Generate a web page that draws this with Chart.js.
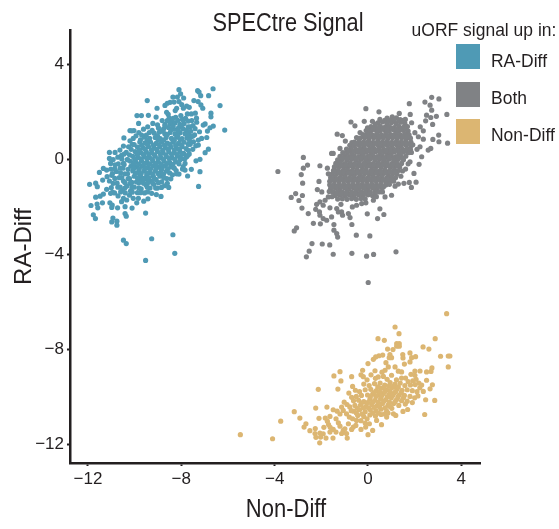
<!DOCTYPE html>
<html lang="en">
<head>
<meta charset="UTF-8">
<title>SPECtre Signal</title>
<script src="https://cdn.jsdelivr.net/npm/chart.js"></script>
<style>
    body { margin: 0; background: #fff; font-family: "Liberation Sans", sans-serif; color: #231f20; }
    #box { position: relative; width: 559px; height: 529px; overflow: hidden; }
    canvas { position: absolute; left: 0; top: 0; }
    .txt { position: absolute; white-space: nowrap; }
    #titulo { left: 188px; width: 200px; top: 8px; text-align: center; font-size: 25px; line-height: 28px; transform: scaleX(.87); }
    #eixoX { left: 186px; width: 200px; top: 494px; text-align: center; font-size: 25px; line-height: 28px; transform: scaleX(.88); }
    #legTitulo { right: 3px; top: 19px; font-size: 19px; line-height: 22px; transform: scaleX(.92); transform-origin: right; }
    .cor { position: absolute; left: 456px; width: 24px; height: 25px; }
    .nome { left: 491px; font-size: 19px; line-height: 22px; transform: scaleX(.92); transform-origin: left; }
</style>
</head>
<body>
<div id="box">
    <canvas id="grafico" width="559" height="529"></canvas>
    <div class="txt" id="titulo">SPECtre Signal</div>
    <div class="txt" id="eixoX">Non-Diff</div>
    <div class="txt" id="legTitulo">uORF signal up in:</div>
    <div class="cor" style="top:44px;background:#4f9ab5"></div>
    <div class="txt nome" style="top:50px">RA-Diff</div>
    <div class="cor" style="top:82px;background:#808285"></div>
    <div class="txt nome" style="top:87px">Both</div>
    <div class="cor" style="top:119px;background:#dcb672"></div>
    <div class="txt nome" style="top:124px">Non-Diff</div>
</div>
<script>
    const xTicks = [-12, -8, -4, 0, 4];
    const yTicks = [4, 0, -4, -8, -12];

    // values: [Non-Diff, RA-Diff]
    const raDiffEdge = [[-8.10,2.92],[-6.64,2.96],[-7.30,2.88],[-7.24,2.82],[-7.17,2.67],[-6.83,2.67],[-8.36,2.61],[-8.17,2.61],[-8.03,2.74],[-7.90,2.57],[-9.46,2.46],[-7.46,2.46],[-7.28,2.42],[-8.48,2.39],[-8.31,2.40],[-8.10,2.42],[-6.34,2.25],[-9.04,2.14],[-8.70,2.26],[-8.60,2.35],[-7.98,2.29],[-7.91,2.14],[-7.16,2.28],[-7.08,2.14],[-8.20,2.14],[-8.26,2.04],[-9.90,1.83],[-9.71,1.83],[-9.41,1.84],[-9.08,1.77],[-8.63,1.97],[-8.56,1.88],[-7.77,2.23],[-7.66,2.18],[-7.74,1.90],[-7.57,1.90],[-7.40,1.93],[-6.73,1.93],[-6.73,1.78],[-9.83,1.50],[-11.93,-1.06],[-11.67,-1.01],[-11.60,-1.16],[-11.37,-0.88],[-11.51,-0.56],[-11.34,-0.39],[-11.20,-0.46],[-11.08,0.28],[-10.84,0.28],[-11.08,0.03],[-11.03,-0.18],[-10.63,0.38],[-10.48,0.55],[-10.20,0.77],[-10.06,0.87],[-10.20,1.20],[-10.03,1.20],[-10.12,1.19],[-10.46,0.89],[-9.70,1.01],[-11.67,-1.60],[-11.48,-1.56],[-11.34,-1.47],[-11.20,-1.27],[-11.03,-1.44],[-11.87,-1.95],[-11.61,-1.89],[-11.38,-1.84],[-11.58,-2.05],[-11.77,-2.34],[-11.68,-2.50],[-11.06,-1.84],[-10.96,-1.93],[-10.98,-2.03],[-10.73,-2.05],[-10.41,-2.00],[-10.11,-2.06],[-10.41,-2.29],[-10.36,-2.40],[-9.53,-2.27],[-10.93,-2.48],[-10.98,-2.64],[-10.76,-2.61],[-10.76,-2.78],[-10.48,-3.41],[-10.36,-3.55],[-9.27,-3.35],[-8.36,-3.18],[-8.28,-3.96],[-9.53,-4.26],[-7.26,-1.15],[-7.20,-0.53],[-7.73,-0.71],[-8.10,-0.63],[-8.54,-1.19],[-8.87,-1.57],[-9.07,-1.49],[-9.27,-1.44],[-9.43,-1.67],[-9.61,-1.77],[-9.91,-1.84],[-10.56,-1.79],[-10.48,-1.65],[-10.34,-1.72],[-10.06,-1.65],[-9.84,-1.65],[-6.84,0.42],[-6.98,0.27],[-7.20,-0.01],[-7.37,-0.07],[-7.57,-0.43],[-7.84,-0.46],[-6.14,1.22],[-6.63,1.39],[-6.77,1.32],[-6.88,1.18],[-6.98,1.48],[-7.06,1.43],[-6.91,0.91],[-7.13,0.87],[-7.27,0.80],[-7.48,0.73],[-7.27,0.59],[-7.51,0.41],[-7.77,0.10],[-7.84,-0.18]];
    const raDiffMid = [[-8.52,1.72],[-8.24,1.76],[-8.02,1.83],[-7.82,1.71],[-7.55,1.62],[-7.34,1.55],[-8.42,1.58],[-7.62,1.36],[-7.41,1.28],[-7.22,1.15],[-7.43,1.02],[-7.58,0.94],[-7.62,0.62],[-7.66,0.22],[-7.92,-0.32],[-8.22,-0.48],[-8.38,-0.66],[-8.62,-0.82],[-8.84,-0.96],[-8.72,-1.12],[-9.02,-1.22],[-9.18,-1.06],[-9.34,-1.22],[-9.52,-1.08],[-9.72,-1.25],[-9.58,-1.42],[-9.88,-1.41],[-10.02,-1.18],[-10.18,-1.34],[-10.34,-1.14],[-10.52,-1.32],[-10.72,-1.18],[-10.86,-1.42],[-10.71,-1.55],[-10.22,-1.52],[-10.92,-1.02],[-11.08,-0.92],[-11.18,-0.74],[-10.98,-0.68],[-11.02,-0.42],[-10.84,-0.24],[-10.92,-0.02],[-10.72,0.08],[-10.78,-0.52],[-10.62,-0.38],[-10.66,-0.78],[-10.48,-0.92],[-10.42,-0.62],[-10.48,-0.18],[-10.56,0.16],[-10.36,0.28],[-10.32,-0.02],[-10.28,-0.82],[-10.12,-0.98],[-9.92,-0.96],[-9.74,-0.86],[-9.52,-0.84],[-9.32,-0.92],[-9.08,-0.86],[-8.92,-0.72],[-10.26,0.52],[-10.1,0.62],[-9.94,0.98],[-9.82,1.12],[-9.62,1.26],[-9.44,1.36],[-9.22,1.5],[-9.02,1.44],[-8.82,1.62],[-8.7,1.46]];
    const raDiffCore = [[-8.48,1.48],[-8.27,1.52],[-8.06,1.46],[-7.88,1.5],[-8.98,1.31],[-8.76,1.27],[-8.55,1.33],[-8.33,1.26],[-8.12,1.31],[-7.93,1.28],[-7.78,1.22],[-9.37,1.12],[-9.16,1.09],[-8.94,1.14],[-8.71,1.07],[-8.48,1.12],[-8.27,1.06],[-8.05,1.11],[-7.84,1.07],[-7.68,1.04],[-9.58,0.92],[-9.36,0.87],[-9.12,0.91],[-8.9,0.86],[-8.65,0.91],[-8.42,0.87],[-8.2,0.92],[-7.97,0.86],[-7.76,0.89],[-9.78,0.72],[-9.56,0.68],[-9.32,0.72],[-9.08,0.66],[-8.84,0.72],[-8.6,0.67],[-8.36,0.71],[-8.12,0.66],[-7.88,0.71],[-9.88,0.51],[-9.64,0.47],[-9.4,0.52],[-9.16,0.46],[-8.92,0.52],[-8.68,0.47],[-8.44,0.51],[-8.2,0.46],[-7.96,0.52],[-7.79,0.44],[-9.98,0.32],[-9.74,0.27],[-9.5,0.31],[-9.26,0.26],[-9.02,0.32],[-8.78,0.27],[-8.54,0.31],[-8.3,0.26],[-8.06,0.32],[-7.9,0.24],[-10.08,0.12],[-9.84,0.07],[-9.6,0.11],[-9.36,0.06],[-9.12,0.12],[-8.88,0.07],[-8.64,0.11],[-8.4,0.06],[-8.16,0.12],[-8.0,0.03],[-10.18,-0.09],[-9.94,-0.13],[-9.7,-0.09],[-9.46,-0.14],[-9.22,-0.08],[-8.98,-0.13],[-8.74,-0.09],[-8.5,-0.14],[-8.24,-0.11],[-10.16,-0.3],[-9.92,-0.34],[-9.68,-0.3],[-9.44,-0.35],[-9.2,-0.29],[-8.96,-0.34],[-8.72,-0.3],[-8.44,-0.33],[-10.08,-0.5],[-9.84,-0.55],[-9.6,-0.5],[-9.36,-0.56],[-9.12,-0.5],[-8.88,-0.55],[-8.64,-0.51],[-10.02,-0.72],[-9.76,-0.68],[-9.48,-0.68],[-9.2,-0.72],[-8.92,-0.62]];
    const raDiffFill = [[-8.7,1.41],[-8.35,1.38],[-8.0,1.42],[-7.7,1.36],[-9.25,1.21],[-8.85,1.18],[-8.45,1.23],[-8.15,1.19],[-7.6,1.17],[-9.5,1.01],[-9.02,0.98],[-8.6,1.03],[-8.15,0.99],[-7.75,1.02],[-7.5,0.97],[-9.75,0.81],[-9.45,0.79],[-9.0,0.83],[-8.75,0.8],[-8.3,0.78],[-8.05,0.82],[-7.65,0.79],[-10.02,0.61],[-9.7,0.58],[-9.45,0.62],[-9.2,0.59],[-8.95,0.61],[-8.72,0.58],[-8.5,0.62],[-8.24,0.57],[-8.0,0.6],[-7.7,0.62],[-7.38,0.56],[-10.15,0.41],[-9.8,0.38],[-9.55,0.42],[-9.28,0.39],[-9.05,0.41],[-8.8,0.37],[-8.55,0.42],[-8.3,0.38],[-8.08,0.41],[-7.7,0.37],[-10.45,0.21],[-10.22,0.18],[-9.9,0.22],[-9.62,0.19],[-9.4,0.21],[-9.15,0.18],[-8.9,0.22],[-8.66,0.17],[-8.42,0.21],[-8.18,0.19],[-7.98,0.22],[-7.72,0.16],[-10.55,0.01],[-10.3,-0.03],[-10.0,0.02],[-9.72,-0.01],[-9.48,0.03],[-9.24,-0.02],[-9.0,0.01],[-8.76,-0.02],[-8.52,0.02],[-8.28,-0.01],[-8.05,-0.03],[-7.85,0.02],[-10.7,-0.2],[-10.45,-0.23],[-10.05,-0.19],[-9.82,-0.22],[-9.58,-0.18],[-9.34,-0.21],[-9.1,-0.19],[-8.86,-0.23],[-8.62,-0.19],[-8.36,-0.22],[-8.1,-0.2],[-10.85,-0.41],[-10.5,-0.38],[-10.28,-0.43],[-10.04,-0.39],[-9.8,-0.42],[-9.56,-0.38],[-9.32,-0.41],[-9.08,-0.39],[-8.84,-0.43],[-8.58,-0.4],[-8.3,-0.38],[-7.95,-0.42],[-10.95,-0.61],[-10.6,-0.58],[-10.3,-0.62],[-9.96,-0.59],[-9.72,-0.61],[-9.48,-0.58],[-9.24,-0.62],[-9.0,-0.6],[-8.76,-0.63],[-8.5,-0.58],[-8.2,-0.62],[-10.85,-0.81],[-10.55,-0.78],[-10.22,-0.82],[-9.88,-0.79],[-9.62,-0.81],[-9.4,-0.78],[-9.16,-0.82],[-8.75,-0.79],[-8.45,-0.83],[-10.75,-1.01],[-10.42,-0.98],[-10.2,-1.02],[-9.82,-0.99],[-9.62,-1.01],[-9.42,-0.98],[-9.22,-1.02],[-8.98,-0.99],[-8.6,-1.02],[-11.0,-1.2],[-10.62,-1.18],[-10.42,-1.22],[-10.12,-1.19],[-9.82,-1.21],[-9.46,-1.18],[-9.1,-1.22],[-8.85,-1.19],[-10.95,-1.4],[-10.6,-1.38],[-10.4,-1.42],[-10.1,-1.39],[-9.75,-1.41],[-9.45,-1.38],[-8.6,1.62],[-8.35,1.71],[-8.15,1.63],[-7.95,1.67],[-7.7,1.6],[-7.5,1.41],[-7.35,1.72]];

    const bothEdge = [[2.73,2.60],[3.04,2.53],[2.44,2.40],[2.66,2.27],[2.73,2.06],[1.77,2.33],[-0.09,2.12],[0.47,1.99],[3.38,1.88],[2.93,1.80],[2.51,1.85],[2.69,1.75],[2.47,1.61],[2.77,1.46],[1.81,1.88],[1.34,1.92],[1.04,1.78],[-0.16,1.59],[-0.73,1.56],[-0.56,1.40],[0.19,1.59],[0.51,1.67],[1.60,1.67],[1.87,1.53],[2.24,1.36],[2.37,1.19],[2.01,1.11],[3.03,1.01],[2.78,0.83],[3.04,0.73],[3.41,0.67],[2.37,0.84],[2.16,0.94],[-1.32,1.05],[-1.10,0.99],[-0.97,0.76],[-0.69,0.69],[-0.34,1.12],[-0.49,0.91],[2.69,0.45],[2.58,0.38],[2.23,0.52],[2.10,0.41],[2.30,0.10],[1.80,-0.11],[2.19,-0.22],[-1.56,0.24],[-1.49,0.24],[-1.20,0.45],[-2.77,0.07],[-2.59,-0.25],[-2.77,-0.38],[-2.86,-0.65],[-3.86,-0.52],[-2.06,-0.28],[-1.74,-0.38],[-1.70,-0.62],[-1.44,-0.46],[-2.80,-1.01],[-2.10,-0.94],[-2.17,-1.28],[-1.98,-1.38],[-3.10,-1.45],[-2.81,-1.53],[-3.29,-1.61],[-2.96,-1.74],[-2.83,-2.06],[-2.56,-2.29],[-2.20,-1.90],[-2.24,-2.11],[-2.06,-1.80],[-1.84,-1.73],[-1.70,-1.59],[-1.92,-1.94],[-1.63,-2.05],[-2.08,-2.22],[-2.06,-2.36],[-1.92,-2.50],[-1.77,-2.57],[-1.56,-2.43],[-2.34,-2.70],[-2.04,-2.72],[-1.46,-2.75],[-3.06,-2.89],[-3.16,-3.02],[-1.46,-2.99],[-1.34,-3.13],[-1.30,-3.28],[-2.40,-3.55],[-1.96,-3.57],[-1.64,-3.61],[-2.52,-3.87],[-2.64,-4.11],[-1.49,-4.00],[-0.69,-3.96],[-0.06,-4.08],[0.24,-4.01],[1.20,-3.90],[-0.50,-3.20],[0.08,-3.23],[-0.69,-2.75],[0.41,-2.50],[0.68,-2.33],[0.51,-2.09],[-0.03,-2.30],[-1.13,-2.22],[-0.84,-2.29],[-0.77,-2.46],[-1.27,-2.22],[-1.09,-2.36],[-1.34,-2.08],[-1.16,-1.90],[-0.67,-2.01],[-0.49,-1.94],[-0.27,-1.87],[-0.09,-1.84],[0.23,-1.73],[0.73,-1.59],[1.01,-1.52],[1.16,-1.14],[1.30,-1.05],[1.54,-1.02],[1.77,-0.98],[2.06,-0.97],[1.86,-1.19],[1.41,-0.72],[1.61,-0.42],[1.97,-0.60],[0.01,-5.19]];
    const bothCore = [[0.82,1.72],[1.02,1.68],[1.22,1.74],[1.38,1.66],[0.42,1.52],[0.62,1.56],[0.81,1.5],[1.01,1.54],[1.21,1.49],[1.41,1.55],[1.58,1.5],[0.13,1.37],[0.33,1.33],[0.53,1.38],[0.72,1.34],[0.92,1.37],[1.12,1.33],[1.32,1.38],[1.52,1.34],[1.69,1.37],[-0.08,1.2],[0.11,1.18],[0.31,1.22],[0.51,1.18],[0.71,1.21],[0.91,1.17],[1.11,1.22],[1.31,1.18],[1.51,1.21],[1.72,1.18],[-0.22,1.03],[-0.02,1.06],[0.18,1.02],[0.38,1.05],[0.58,1.02],[0.78,1.06],[0.98,1.02],[1.18,1.05],[1.38,1.02],[1.58,1.06],[1.76,1.02],[-0.35,0.88],[-0.15,0.9],[0.05,0.87],[0.25,0.9],[0.45,0.87],[0.65,0.9],[0.85,0.87],[1.05,0.9],[1.25,0.87],[1.45,0.9],[1.65,0.87],[1.82,0.88],[-0.58,0.72],[-0.38,0.74],[-0.18,0.72],[0.02,0.75],[0.22,0.71],[0.42,0.74],[0.62,0.72],[0.82,0.75],[1.02,0.71],[1.22,0.74],[1.42,0.72],[1.62,0.75],[1.84,0.72],[-0.78,0.58],[-0.58,0.57],[-0.38,0.59],[-0.18,0.56],[0.02,0.59],[0.22,0.57],[0.42,0.6],[0.62,0.56],[0.82,0.59],[1.02,0.57],[1.22,0.6],[1.42,0.56],[1.62,0.59],[1.84,0.56],[-0.92,0.42],[-0.72,0.43],[-0.52,0.41],[-0.32,0.44],[-0.12,0.41],[0.08,0.44],[0.28,0.42],[0.48,0.45],[0.68,0.41],[0.88,0.44],[1.08,0.42],[1.28,0.45],[1.48,0.41],[1.68,0.44],[1.82,0.41],[-1.08,0.27],[-0.88,0.28],[-0.68,0.26],[-0.48,0.29],[-0.28,0.26],[-0.08,0.29],[0.12,0.27],[0.32,0.3],[0.52,0.26],[0.72,0.29],[0.92,0.27],[1.12,0.3],[1.32,0.26],[1.52,0.29],[1.72,0.27],[-1.2,0.12],[-1.0,0.13],[-0.8,0.11],[-0.6,0.14],[-0.4,0.11],[-0.2,0.14],[0.0,0.12],[0.2,0.15],[0.4,0.11],[0.6,0.14],[0.8,0.12],[1.0,0.15],[1.2,0.11],[1.4,0.14],[1.62,0.12],[-1.3,-0.03],[-1.1,-0.02],[-0.9,-0.04],[-0.7,-0.01],[-0.5,-0.04],[-0.3,-0.01],[-0.1,-0.03],[0.1,0.0],[0.3,-0.04],[0.5,-0.01],[0.7,-0.03],[0.9,0.0],[1.1,-0.04],[1.3,-0.01],[1.52,-0.03],[-1.38,-0.18],[-1.18,-0.17],[-0.98,-0.19],[-0.78,-0.16],[-0.58,-0.19],[-0.38,-0.16],[-0.18,-0.18],[0.02,-0.15],[0.22,-0.19],[0.42,-0.16],[0.62,-0.18],[0.82,-0.15],[1.02,-0.19],[1.22,-0.16],[1.44,-0.18],[-1.44,-0.33],[-1.24,-0.32],[-1.04,-0.34],[-0.84,-0.31],[-0.64,-0.34],[-0.44,-0.31],[-0.24,-0.33],[-0.04,-0.3],[0.16,-0.34],[0.36,-0.31],[0.56,-0.33],[0.76,-0.3],[0.96,-0.34],[1.16,-0.31],[1.36,-0.33],[-1.48,-0.48],[-1.28,-0.47],[-1.08,-0.49],[-0.88,-0.46],[-0.68,-0.49],[-0.48,-0.46],[-0.28,-0.48],[-0.08,-0.45],[0.12,-0.49],[0.32,-0.46],[0.52,-0.48],[0.72,-0.45],[0.92,-0.49],[1.12,-0.46],[1.3,-0.48],[-1.54,-0.63],[-1.34,-0.62],[-1.14,-0.64],[-0.94,-0.61],[-0.74,-0.64],[-0.54,-0.61],[-0.34,-0.63],[-0.14,-0.6],[0.06,-0.64],[0.26,-0.61],[0.46,-0.63],[0.66,-0.6],[0.86,-0.64],[1.06,-0.61],[1.24,-0.63],[-1.6,-0.78],[-1.4,-0.77],[-1.2,-0.79],[-1.0,-0.76],[-0.8,-0.79],[-0.6,-0.76],[-0.4,-0.78],[-0.2,-0.75],[0.0,-0.79],[0.2,-0.76],[0.4,-0.78],[0.6,-0.75],[0.8,-0.79],[1.0,-0.76],[1.18,-0.78],[-1.64,-0.93],[-1.44,-0.92],[-1.24,-0.94],[-1.04,-0.91],[-0.84,-0.94],[-0.64,-0.91],[-0.44,-0.93],[-0.24,-0.9],[-0.04,-0.94],[0.16,-0.91],[0.36,-0.93],[0.56,-0.9],[0.76,-0.94],[0.96,-0.91],[1.1,-0.93],[-1.64,-1.08],[-1.44,-1.07],[-1.24,-1.09],[-1.04,-1.06],[-0.84,-1.09],[-0.64,-1.06],[-0.44,-1.08],[-0.24,-1.05],[-0.04,-1.09],[0.16,-1.06],[0.36,-1.08],[0.56,-1.05],[0.76,-1.09],[0.92,-1.06],[-1.6,-1.23],[-1.4,-1.22],[-1.2,-1.24],[-1.0,-1.21],[-0.8,-1.24],[-0.6,-1.21],[-0.4,-1.23],[-0.2,-1.2],[0.0,-1.24],[0.2,-1.21],[0.4,-1.23],[0.6,-1.2],[-1.5,-1.38],[-1.3,-1.37],[-1.1,-1.39],[-0.9,-1.36],[-0.7,-1.39],[-0.5,-1.36],[-0.3,-1.38],[-0.1,-1.35],[0.1,-1.39],[0.3,-1.36],[0.48,-1.38],[-1.4,-1.53],[-1.2,-1.52],[-1.0,-1.54],[-0.8,-1.51],[-0.6,-1.54],[-0.4,-1.51],[-0.2,-1.53],[0.0,-1.5],[0.2,-1.54],[-1.3,-1.68],[-1.1,-1.67],[-0.9,-1.69],[-0.7,-1.66],[-0.5,-1.69],[-0.3,-1.66],[-0.12,-1.68]];
    const bothFill = [[0.72,1.63],[0.92,1.61],[1.12,1.64],[1.32,1.61],[1.52,1.63],[0.23,1.28],[0.43,1.25],[0.63,1.28],[0.83,1.26],[1.03,1.29],[1.23,1.25],[1.43,1.28],[1.63,1.26],[-0.12,0.97],[0.08,0.95],[0.28,0.98],[0.48,0.95],[0.68,0.97],[0.88,0.95],[1.08,0.98],[1.28,0.95],[1.48,0.97],[1.68,0.95],[-0.48,0.66],[-0.28,0.65],[-0.08,0.67],[0.12,0.64],[0.32,0.67],[0.52,0.65],[0.72,0.67],[0.92,0.64],[1.12,0.67],[1.32,0.65],[1.52,0.67],[1.74,0.64],[-0.82,0.35],[-0.62,0.34],[-0.42,0.36],[-0.22,0.33],[-0.02,0.36],[0.18,0.34],[0.38,0.37],[0.58,0.33],[0.78,0.36],[0.98,0.34],[1.18,0.37],[1.38,0.33],[1.58,0.36],[-1.1,0.05],[-0.9,0.04],[-0.7,0.06],[-0.5,0.03],[-0.3,0.06],[-0.1,0.04],[0.1,0.07],[0.3,0.03],[0.5,0.06],[0.7,0.04],[0.9,0.07],[1.1,0.03],[1.3,0.06],[1.5,0.04],[-1.34,-0.25],[-1.14,-0.26],[-0.94,-0.24],[-0.74,-0.27],[-0.54,-0.24],[-0.34,-0.26],[-0.14,-0.23],[0.06,-0.27],[0.26,-0.24],[0.46,-0.26],[0.66,-0.23],[0.86,-0.27],[1.06,-0.24],[1.26,-0.26],[-1.44,-0.55],[-1.24,-0.56],[-1.04,-0.54],[-0.84,-0.57],[-0.64,-0.54],[-0.44,-0.56],[-0.24,-0.53],[-0.04,-0.57],[0.16,-0.54],[0.36,-0.56],[0.56,-0.53],[0.76,-0.57],[0.96,-0.54],[1.16,-0.56],[-1.54,-0.85],[-1.34,-0.86],[-1.14,-0.84],[-0.94,-0.87],[-0.74,-0.84],[-0.54,-0.86],[-0.34,-0.83],[-0.14,-0.87],[0.06,-0.84],[0.26,-0.86],[0.46,-0.83],[0.66,-0.87],[0.86,-0.84],[1.02,-0.86],[-1.54,-1.15],[-1.34,-1.16],[-1.14,-1.14],[-0.94,-1.17],[-0.74,-1.14],[-0.54,-1.16],[-0.34,-1.13],[-0.14,-1.17],[0.06,-1.14],[0.26,-1.16],[0.46,-1.13],[0.66,-1.17],[-1.34,-1.45],[-1.14,-1.46],[-0.94,-1.44],[-0.74,-1.47],[-0.54,-1.44],[-0.34,-1.46],[-0.14,-1.43],[0.06,-1.47],[0.3,-1.46],[-1.66,-1.36],[-1.54,-1.58],[-0.02,1.32],[0.32,1.46],[1.86,0.28],[1.92,0.6],[1.72,-0.2],[1.48,-0.5],[0.62,-1.38],[0.36,-1.58]];

    const nonDiffEdge = [[3.37,-6.50],[1.16,-7.06],[1.33,-7.34],[0.43,-7.55],[0.70,-7.62],[2.88,-7.55],[1.23,-7.76],[1.34,-7.76],[1.23,-7.87],[1.34,-7.87],[0.84,-7.99],[1.07,-8.01],[2.36,-7.90],[2.61,-7.99],[3.11,-8.29],[3.44,-8.28],[3.51,-8.28],[3.44,-8.74],[1.80,-8.15],[1.87,-8.35],[2.04,-8.31],[1.49,-8.22],[1.50,-8.36],[0.94,-8.22],[0.91,-8.35],[1.01,-8.35],[0.63,-8.24],[0.47,-8.27],[0.33,-8.32],[0.23,-8.42],[0.00,-8.60],[0.77,-8.56],[1.56,-8.62],[1.80,-8.53],[0.87,-8.74],[0.73,-8.88],[1.16,-8.74],[1.30,-8.92],[1.44,-8.95],[2.74,-8.78],[2.51,-8.95],[2.70,-8.93],[2.01,-8.91],[2.23,-8.91],[1.84,-9.05],[2.01,-9.09],[-0.23,-8.88],[-0.30,-9.07],[-0.20,-9.15],[0.13,-9.07],[0.44,-9.16],[0.66,-9.14],[1.01,-9.09],[-1.20,-8.94],[-1.46,-9.12],[-1.16,-9.33],[-0.70,-9.15],[-2.13,-9.68],[-1.29,-9.67],[-0.66,-9.56],[2.51,-9.30],[2.76,-9.49],[2.66,-9.66],[2.37,-9.77],[1.44,-9.21],[1.61,-9.21],[2.06,-9.26],[2.47,-10.12],[2.86,-10.15],[2.43,-10.74],[1.50,-10.61],[1.70,-10.53],[-2.24,-10.47],[-1.76,-10.43],[-3.16,-10.62],[-2.92,-10.89],[-3.74,-11.02],[-5.47,-11.59],[-4.09,-11.76],[-2.66,-11.13],[-2.74,-11.27],[-2.49,-11.42],[-2.10,-10.90],[-1.83,-10.89],[-1.63,-10.82],[-1.49,-10.54],[-1.32,-10.60],[-1.13,-10.43],[-1.06,-10.57],[-0.92,-10.71],[-0.80,-10.85],[-1.37,-10.92],[-1.27,-11.09],[-1.20,-11.23],[-1.69,-11.16],[-1.89,-11.28],[-2.26,-11.33],[-2.27,-11.54],[-2.06,-11.52],[-1.92,-11.55],[-2.23,-11.70],[-2.03,-11.69],[-1.80,-11.73],[-2.07,-11.93],[-1.63,-11.48],[-1.49,-11.37],[-1.37,-11.48],[-1.50,-11.73],[-1.06,-11.41],[-0.99,-11.34],[-1.13,-11.54],[-0.92,-11.54],[-0.89,-11.73],[-0.70,-11.37],[-0.63,-11.27],[-0.52,-11.20],[-0.84,-11.13],[-0.49,-10.99],[-0.30,-11.37],[-0.10,-11.27],[0.00,-11.59],[0.20,-11.41],[0.06,-11.13],[0.37,-10.99],[0.58,-11.17],[0.80,-10.85],[1.09,-10.71],[1.19,-10.78]];
    const nonDiffCore = [[0.32,-9.22],[0.82,-9.26],[1.22,-9.28],[1.72,-9.36],[1.92,-9.32],[2.18,-9.42],[-0.18,-9.46],[0.05,-9.52],[0.28,-9.44],[0.52,-9.42],[0.72,-9.5],[0.95,-9.4],[1.16,-9.46],[1.38,-9.42],[1.58,-9.52],[1.82,-9.5],[2.02,-9.48],[2.22,-9.62],[-0.36,-9.78],[-0.12,-9.7],[0.12,-9.68],[0.36,-9.74],[0.56,-9.64],[0.8,-9.7],[1.02,-9.62],[1.24,-9.68],[1.46,-9.72],[1.68,-9.7],[1.9,-9.74],[2.1,-9.78],[-0.5,-9.98],[-0.28,-9.94],[-0.02,-9.92],[0.2,-9.88],[0.44,-9.92],[0.66,-9.86],[0.9,-9.9],[1.12,-9.84],[1.34,-9.92],[1.56,-9.94],[1.8,-9.98],[2.0,-10.04],[-0.62,-10.16],[-0.4,-10.14],[-0.18,-10.2],[0.08,-10.1],[0.3,-10.14],[0.54,-10.08],[0.76,-10.12],[1.0,-10.04],[1.22,-10.12],[1.44,-10.16],[1.68,-10.18],[-0.78,-10.42],[-0.56,-10.36],[-0.32,-10.34],[-0.08,-10.4],[0.16,-10.32],[0.4,-10.36],[0.62,-10.28],[0.86,-10.34],[1.1,-10.28],[1.32,-10.36],[-0.62,-10.6],[-0.36,-10.54],[-0.12,-10.62],[0.1,-10.54],[0.34,-10.58],[0.56,-10.52],[0.8,-10.6],[1.02,-10.48],[-0.44,-10.78],[-0.18,-10.82],[0.08,-10.76],[0.32,-10.8],[0.56,-10.74]];
    const nonDiffFill = [[0.42,-9.58],[0.68,-9.6],[0.9,-9.55],[1.1,-9.56],[1.3,-9.58],[0.26,-9.82],[0.5,-9.8],[0.72,-9.78],[0.94,-9.76],[1.18,-9.78],[1.42,-9.82],[0.1,-10.0],[0.34,-9.98],[0.58,-9.96],[0.82,-10.0],[1.06,-9.94],[1.28,-10.0],[1.52,-10.04],[-0.28,-10.26],[-0.02,-10.24],[0.2,-10.22],[0.44,-10.22],[0.68,-10.18],[0.92,-10.22],[1.16,-10.2],[-0.46,-10.48],[-0.2,-10.46],[0.02,-10.46],[0.26,-10.44],[0.5,-10.42],[0.74,-10.46],[0.94,-10.4],[-0.9,-10.32],[-0.72,-10.58],[-0.5,-10.68],[-0.26,-10.72],[-0.04,-10.92],[0.2,-10.68],[0.44,-10.68],[0.7,-10.72],[-0.66,-10.92],[-0.3,-11.0],[-0.12,-11.1],[0.86,-10.68],[1.6,-10.3],[1.9,-10.24],[2.14,-9.96],[2.3,-9.5],[-0.7,-10.02],[-0.82,-9.84],[-0.54,-9.72],[-1.02,-10.22],[-1.2,-10.72],[-1.62,-11.28],[-1.74,-11.02],[0.3,-8.9],[-0.04,-9.28],[0.6,-8.96]];

    function pontos(...listas) {
        return listas.flat().map(p => ({ x: p[0], y: p[1] }));
    }
    function marcas(valores) {
        return axis => { axis.ticks = valores.map(v => ({ value: v })); };
    }
    function rotulo(v) {
        return String(v).replace('-', '\u2212');
    }

    const tinta = '#231f20';
    const fonteEixo = { family: '"Liberation Sans", sans-serif', size: 17 };

    new Chart(document.getElementById('grafico'), {
        type: 'scatter',
        data: {
            datasets: [
                { label: 'RA-Diff', data: pontos(raDiffEdge, raDiffMid, raDiffCore, raDiffFill), backgroundColor: '#4f9ab5' },
                { label: 'Both', data: pontos(bothEdge, bothCore, bothFill), backgroundColor: '#808285' },
                { label: 'Non-Diff', data: pontos(nonDiffEdge, nonDiffCore, nonDiffFill), backgroundColor: '#dcb672' }
            ]
        },
        options: {
            responsive: false,
            animation: false,
            layout: { padding: { top: 30, right: 79, bottom: 0, left: 0 } },
            elements: { point: { radius: 2.6, borderWidth: 0 } },
            plugins: { legend: { display: false }, tooltip: { enabled: false } },
            scales: {
                x: {
                    type: 'linear',
                    min: -12.77,
                    max: 4.8,
                    afterBuildTicks: marcas(xTicks),
                    afterFit: axis => { axis.height = 66; },
                    border: { color: tinta, width: 2.5 },
                    grid: { drawOnChartArea: false, color: tinta, tickLength: 3, tickWidth: 2 },
                    ticks: { color: tinta, font: fonteEixo, padding: 3, maxRotation: 0, callback: rotulo }
                },
                y: {
                    type: 'linear',
                    min: -12.78,
                    max: 5.43,
                    afterBuildTicks: marcas(yTicks),
                    afterFit: axis => { axis.width = 70; },
                    border: { color: tinta, width: 2.5 },
                    grid: { drawOnChartArea: false, color: tinta, tickLength: 3, tickWidth: 2 },
                    ticks: { color: tinta, font: fonteEixo, padding: 3, callback: rotulo },
                    title: {
                        display: true,
                        text: 'RA-Diff',
                        color: tinta,
                        font: { family: fonteEixo.family, size: 24 },
                        padding: { top: 10, bottom: 0 }
                    }
                }
            }
        }
    });
</script>
</body>
</html>
